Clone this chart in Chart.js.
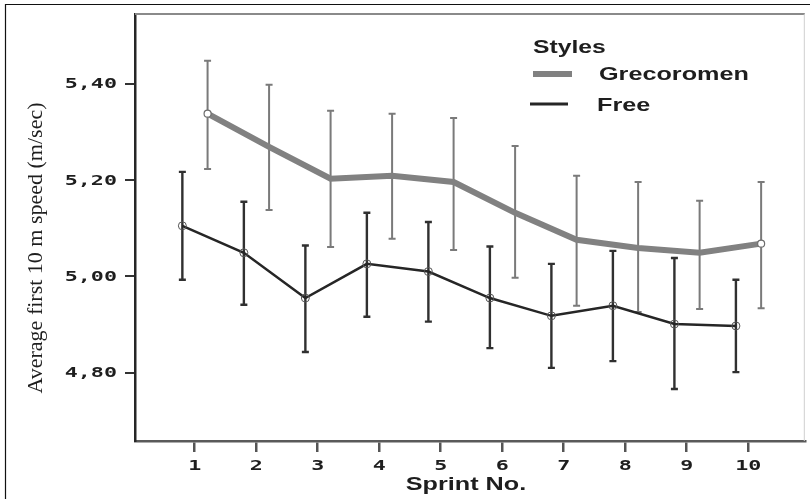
<!DOCTYPE html>
<html>
<head>
<meta charset="utf-8">
<script src="https://cdn.jsdelivr.net/npm/chart.js@4"></script>
<style>
  html, body { margin: 0; padding: 0; background: #fff; }
  #c { display: block; }
</style>
</head>
<body>
<canvas id="c" width="810" height="499"></canvas>
<script>
// ---- data ----
const sprints = [1, 2, 3, 4, 5, 6, 7, 8, 9, 10];
const xTickLabels = ['1', '2', '3', '4', '5', '6', '7', '8', '9', '10'];
const yTickValues = [4.8, 5.0, 5.2, 5.4];
const yTickLabels = ['4,80', '5,00', '5,20', '5,40'];

const grecoMean  = [5.338, 5.269, 5.203, 5.209, 5.196, 5.132, 5.076, 5.059, 5.049, 5.068];
const grecoUpper = [5.448, 5.398, 5.344, 5.338, 5.329, 5.271, 5.209, 5.196, 5.157, 5.196];
const grecoLower = [5.223, 5.138, 5.061, 5.078, 5.055, 4.997, 4.939, 4.926, 4.932, 4.934];

const freeMean  = [5.105, 5.049, 4.955, 5.026, 5.010, 4.955, 4.918, 4.939, 4.901, 4.897];
const freeUpper = [5.217, 5.155, 5.064, 5.132, 5.113, 5.062, 5.026, 5.053, 5.038, 4.993];
const freeLower = [4.993, 4.941, 4.843, 4.916, 4.906, 4.851, 4.810, 4.824, 4.766, 4.801];

const legendTitle = 'Styles';
const seriesNames = ['Grecoromen', 'Free'];
const xTitle = 'Sprint No.';
const yTitle = 'Average first 10 m speed (m/sec)';

// ---- styles / layout constants ----
const GRECO_SHIFT = 0.21;
const FREE_SHIFT = -0.2;
const GRECO_COLOR = '#818181';
const FREE_COLOR = '#262626';
const SANS = '"Liberation Sans", Arial, sans-serif';
const MONO = 'bold 14px "DejaVu Sans Mono", monospace';
const STRETCH = 1.4;
const TICK_STRETCH = 1.55;

const grecoData = sprints.map((s, i) => ({ x: s + GRECO_SHIFT, y: grecoMean[i] }));
const freeData = sprints.map((s, i) => ({ x: s + FREE_SHIFT, y: freeMean[i] }));

const errorSets = [
  { shift: GRECO_SHIFT, upper: grecoUpper, lower: grecoLower, color: '#7a7a7a', width: 2 },
  { shift: FREE_SHIFT, upper: freeUpper, lower: freeLower, color: '#303030', width: 2.4 }
];

const errorBarPlugin = {
  id: 'errorBars',
  beforeDatasetsDraw(chart) {
    const { ctx, scales: { x, y } } = chart;
    ctx.save();
    errorSets.forEach(set => {
      ctx.strokeStyle = set.color;
      ctx.lineWidth = set.width;
      sprints.forEach((s, i) => {
        const px = x.getPixelForValue(s + set.shift);
        const pt = y.getPixelForValue(set.upper[i]);
        const pb = y.getPixelForValue(set.lower[i]);
        ctx.beginPath();
        ctx.moveTo(px, pt); ctx.lineTo(px, pb);
        ctx.moveTo(px - 3.5, pt); ctx.lineTo(px + 3.5, pt);
        ctx.moveTo(px - 3.5, pb); ctx.lineTo(px + 3.5, pb);
        ctx.stroke();
      });
    });
    ctx.restore();
  }
};

function stretchedText(ctx, text, x, y, font, align, sx, baseline) {
  ctx.save();
  ctx.translate(x, y);
  ctx.scale(sx, 1);
  ctx.font = font;
  ctx.textAlign = align;
  ctx.textBaseline = baseline || 'alphabetic';
  ctx.fillText(text, 0, 0);
  ctx.restore();
}

const decorPlugin = {
  id: 'decor',
  afterDraw(chart) {
    const { ctx, chartArea: a, scales: { x, y } } = chart;
    ctx.save();
    // outer frame (top & left)
    ctx.strokeStyle = '#111';
    ctx.lineWidth = 1.2;
    ctx.beginPath();
    ctx.moveTo(5.5, 499); ctx.lineTo(5.5, 4.5); ctx.lineTo(810, 4.5);
    ctx.stroke();
    // plot area top and right border
    ctx.strokeStyle = '#8a8a8a';
    ctx.lineWidth = 2;
    ctx.beginPath();
    ctx.moveTo(a.left, a.top); ctx.lineTo(a.right, a.top);
    ctx.stroke();
    ctx.strokeStyle = '#cfcfcf';
    ctx.lineWidth = 1;
    ctx.beginPath();
    ctx.moveTo(a.right - 0.5, a.top); ctx.lineTo(a.right - 0.5, a.bottom);
    ctx.stroke();

    ctx.fillStyle = '#1e1e1e';
    // tick labels (wide SPSS style), placed with the chart's own scales
    y.ticks.forEach((t, i) => {
      stretchedText(ctx, yTickLabels[i], a.left - 18, y.getPixelForValue(t.value) + 1, MONO, 'right', TICK_STRETCH, 'middle');
    });
    x.ticks.forEach((t, i) => {
      stretchedText(ctx, xTickLabels[i], x.getPixelForValue(t.value), a.bottom + 25, MONO, 'center', TICK_STRETCH, 'middle');
    });

    // x axis title
    stretchedText(ctx, xTitle, 466, 490, 'bold 18px ' + SANS, 'center', STRETCH);
    // y axis title (serif, not stretched)
    ctx.save();
    ctx.translate(42, 248);
    ctx.rotate(-Math.PI / 2);
    ctx.font = '22px "Liberation Serif", "Times New Roman", serif';
    ctx.textAlign = 'center';
    ctx.textBaseline = 'alphabetic';
    ctx.fillText(yTitle, 0, 0);
    ctx.restore();

    // legend
    stretchedText(ctx, legendTitle, 533, 53, 'bold 18px ' + SANS, 'left', STRETCH * 0.98);
    ctx.fillStyle = GRECO_COLOR;
    ctx.fillRect(533, 71, 39, 6);
    ctx.fillStyle = FREE_COLOR;
    ctx.fillRect(530, 102.5, 38, 3);
    ctx.fillStyle = '#1e1e1e';
    stretchedText(ctx, seriesNames[0], 599, 80, 'bold 18px ' + SANS, 'left', STRETCH);
    stretchedText(ctx, seriesNames[1], 597, 111, 'bold 18px ' + SANS, 'left', STRETCH);
    ctx.restore();
  }
};

const lastIdx = sprints.length - 1;

new Chart(document.getElementById('c'), {
  type: 'line',
  data: {
    datasets: [
      {
        label: seriesNames[0],
        data: grecoData,
        borderColor: GRECO_COLOR,
        borderWidth: 6,
        tension: 0,
        pointRadius: ctx => (ctx.dataIndex === 0 || ctx.dataIndex === lastIdx) ? 3.5 : 0,
        pointBackgroundColor: '#ffffff',
        pointBorderColor: '#6e6e6e',
        pointBorderWidth: 1.2
      },
      {
        label: seriesNames[1],
        data: freeData,
        borderColor: FREE_COLOR,
        borderWidth: 2.5,
        tension: 0,
        pointRadius: 4,
        pointBackgroundColor: 'rgba(255,255,255,0)',
        pointBorderColor: '#555',
        pointBorderWidth: 1
      }
    ]
  },
  options: {
    responsive: false,
    animation: false,
    layout: { padding: { top: 14, right: 1, left: 0, bottom: 0 } },
    plugins: { legend: { display: false }, tooltip: { enabled: false } },
    scales: {
      x: {
        type: 'linear',
        min: 0.03,
        max: 10.92,
        afterBuildTicks: scale => { scale.ticks = sprints.map(v => ({ value: v })); },
        afterFit: scale => { scale.height = 58; },
        grid: { display: true, drawOnChartArea: false, drawTicks: true, tickLength: 11, color: '#555', lineWidth: 2.5 },
        border: { display: true, color: '#5a5a5a', width: 2.5 },
        ticks: { display: false, autoSkip: false, maxRotation: 0 }
      },
      y: {
        type: 'linear',
        min: 4.658,
        max: 5.545,
        afterBuildTicks: scale => { scale.ticks = yTickValues.map(v => ({ value: v })); },
        afterFit: scale => { scale.width = 135; },
        grid: { display: true, drawOnChartArea: false, drawTicks: true, tickLength: 10, color: '#333', lineWidth: 2 },
        border: { display: true, color: '#262626', width: 2.5 },
        ticks: { display: false, autoSkip: false }
      }
    }
  },
  plugins: [errorBarPlugin, decorPlugin]
});
</script>
</body>
</html>
